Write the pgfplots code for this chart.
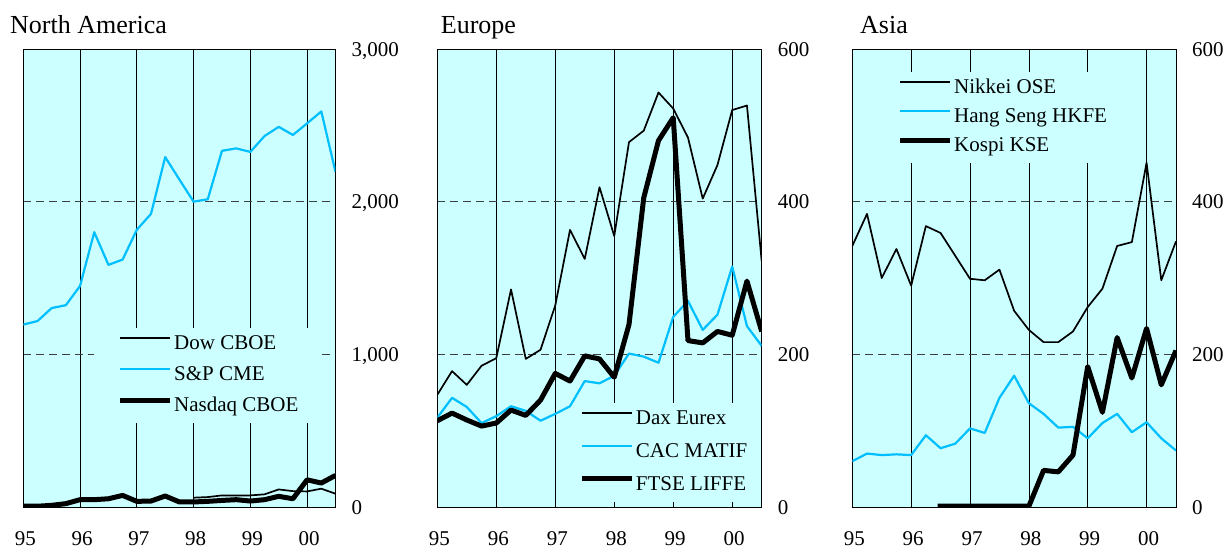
\documentclass[border=0pt]{standalone}
\usepackage{fontspec}
\setmainfont{Liberation Serif}
\usepackage{pgfplots}
\pgfplotsset{compat=1.18}
\definecolor{bgc}{RGB}{204,255,255}
\definecolor{lineblue}{RGB}{0,191,255}
\newcommand{\tickfont}{\fontsize{21}{25}\selectfont}
\newcommand{\legfont}{\fontsize{21}{25}\selectfont}
\newcommand{\titfont}{\fontsize{26}{30}\selectfont}
\pgfplotsset{
  legend image code/.code={\path (0pt,0pt); \draw[#1] (0pt,6.6pt) -- (50pt,6.6pt);},
  thinb/.style={black, line width=1.7pt, line join=round},
  cyanl/.style={lineblue, line width=2.2pt, line join=round},
  thickb/.style={black, line width=5pt, line join=round},
  every axis title shift=0pt,
  panel/.style={
    scale only axis,
    height=458pt,
    anchor=south west,
    xmin=0, xmax=5.5,
    ymin=0,
    xtick={0,1,2,3,4,5},
    xticklabels={95,96,97,98,99,00},
    axis background/.style={fill=bgc},
    axis line style={black, line width=0.8pt},
    major tick length=0pt,
    ytick pos=right, yticklabel pos=right,
    xmajorgrids, ymajorgrids,
    x grid style={black, line width=0.7pt},
    y grid style={black!75, line width=0.7pt, dash pattern=on 8pt off 5pt},
    xticklabel style={font=\tickfont, anchor=base, inner sep=0pt, yshift=-38.5pt, xshift=2pt},
    yticklabel style={font=\tickfont, anchor=base west, inner sep=0pt, xshift=16pt, yshift=-7pt},
    title style={font=\titfont, anchor=base west, inner sep=0pt},
    legend cell align=left,
    legend style={draw=none, fill=bgc, anchor=north west, font=\legfont, inner ysep=6.5pt,
       nodes={inner sep=0pt, text height=15pt, text depth=5pt},
       /tikz/every odd column/.append style={column sep=1.5pt}},
  }
}
\begin{document}
\begin{tikzpicture}
\useasboundingbox (0,0) rectangle (1227pt,550pt);
% ---------------- North America
\begin{axis}[panel, at={(23.3pt,43pt)}, width=312.2pt,
  ymax=3000, ytick={0,1000,2000,3000}, yticklabels={0,{1,000},{2,000},{3,000}},
  title={North America}, title style={at={(axis description cs:-0.0426,1.0343)}},
  legend style={at={(axis description cs:0.2265,0.3913)}, inner xsep=23.5pt, row sep=11.2pt}]
\addplot[thinb] coordinates {(3.00,61)(3.25,65)(3.50,76)(3.75,76)(4.00,76)(4.25,83)(4.50,115)(4.75,104)(5.00,102)(5.25,120)(5.50,87)};
\addlegendentry{Dow CBOE}
\addplot[cyanl] coordinates {(0.00,1195)(0.25,1218)(0.50,1303)(0.75,1322)(1.00,1448)(1.25,1800)(1.50,1586)(1.75,1621)(2.00,1816)(2.25,1920)(2.50,2292)(2.75,2145)(3.00,2000)(3.25,2016)(3.50,2333)(3.75,2349)(4.00,2326)(4.25,2430)(4.50,2490)(4.75,2437)(5.00,2513)(5.25,2591)(5.50,2195)};
\addlegendentry{S\&P CME}
\addplot[thickb] coordinates {(0.00,5)(0.25,5)(0.50,11)(0.75,22)(1.00,48)(1.25,48)(1.50,54)(1.75,76)(2.00,37)(2.25,39)(2.50,72)(2.75,33)(3.00,33)(3.25,37)(3.50,43)(3.75,48)(4.00,39)(4.25,48)(4.50,70)(4.75,54)(5.00,178)(5.25,157)(5.50,207)};
\addlegendentry{Nasdaq CBOE}
\end{axis}
% ---------------- Europe
\begin{axis}[panel, at={(437.3pt,43pt)}, width=324.4pt,
  ymax=600, ytick={0,200,400,600}, yticklabels={0,200,400,600},
  title={Europe}, title style={at={(axis description cs:0.0105,1.0343)}},
  legend style={at={(axis description cs:0.419,0.2275)}, inner xsep=6pt, row sep=12.85pt}]
\addplot[thinb] coordinates {(0.00,147)(0.25,178)(0.50,160)(0.75,185)(1.00,195)(1.25,285)(1.50,194)(1.75,206)(2.00,264)(2.25,363)(2.50,325)(2.75,419)(3.00,355)(3.25,478)(3.50,493)(3.75,543)(4.00,522)(4.25,484)(4.50,404)(4.75,448)(5.00,520)(5.25,526)(5.50,322)};
\addlegendentry{Dax Eurex}
\addplot[cyanl] coordinates {(0.00,117)(0.25,143)(0.50,131)(0.75,110)(1.00,119)(1.25,132)(1.50,126)(1.75,113)(2.00,122)(2.25,132)(2.50,165)(2.75,162)(3.00,172)(3.25,201)(3.50,197)(3.75,189)(4.00,249)(4.25,270)(4.50,232)(4.75,252)(5.00,315)(5.25,237)(5.50,211)};
\addlegendentry{CAC MATIF}
\addplot[thickb] coordinates {(0.00,113)(0.25,123)(0.50,114)(0.75,106)(1.00,110)(1.25,127)(1.50,120)(1.75,140)(2.00,175)(2.25,165)(2.50,198)(2.75,194)(3.00,170)(3.25,239)(3.50,405)(3.75,480)(4.00,510)(4.25,218)(4.50,215)(4.75,230)(5.00,225)(5.25,296)(5.50,230)};
\addlegendentry{FTSE LIFFE}
\end{axis}
% ---------------- Asia
\begin{axis}[panel, at={(852.3pt,43pt)}, width=323.7pt,
  ymax=600, ytick={0,200,400,600}, yticklabels={0,200,400,600},
  title={Asia}, title style={at={(axis description cs:0.0238,1.0343)}},
  legend style={at={(axis description cs:0.1026,0.9502)}, inner xsep=12pt, row sep=9.2pt}]
\addplot[thinb] coordinates {(0.00,342)(0.25,384)(0.50,300)(0.75,338)(1.00,290)(1.25,368)(1.50,359)(1.75,329)(2.00,299)(2.25,297)(2.50,311)(2.75,257)(3.00,232)(3.25,216)(3.50,216)(3.75,230)(4.00,262)(4.25,286)(4.50,342)(4.75,347)(5.00,451)(5.25,297)(5.50,348)};
\addlegendentry{Nikkei OSE}
\addplot[cyanl] coordinates {(0.00,60)(0.25,70)(0.50,68)(0.75,69)(1.00,68)(1.25,94)(1.50,77)(1.75,83)(2.00,103)(2.25,97)(2.50,143)(2.75,172)(3.00,136)(3.25,122)(3.50,104)(3.75,105)(4.00,90)(4.25,110)(4.50,122)(4.75,98)(5.00,111)(5.25,90)(5.50,74)};
\addlegendentry{Hang Seng HKFE}
\addplot[thickb] coordinates {(1.45,1)(1.75,1)(2.00,1)(2.25,1)(2.50,1)(2.75,1)(3.00,1)(3.25,48)(3.50,46)(3.75,68)(4.00,184)(4.25,124)(4.50,222)(4.75,169)(5.00,234)(5.25,160)(5.50,205)};
\addlegendentry{Kospi KSE}
\end{axis}
\end{tikzpicture}
\end{document}
